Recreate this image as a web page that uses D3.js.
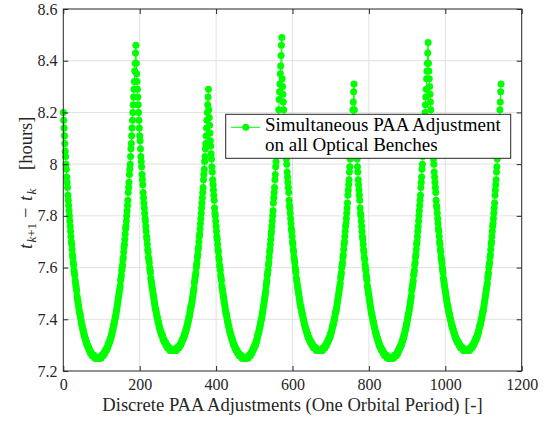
<!DOCTYPE html>
<html>
<head>
<meta charset="utf-8">
<script src="https://cdn.jsdelivr.net/npm/d3@7"></script>
<style>
  html, body { margin: 0; padding: 0; background: #fff; }
  svg { display: block; }
  svg text { font-family: "Liberation Serif", "Times New Roman", serif !important; }
</style>
</head>
<body>
<svg id="chart" width="551" height="426"></svg>
<script>
// Interval between consecutive PAA adjustments [hours], one array per arc
// (adjustment index k runs on continuously from one arc to the next).
const arc1 = [
  8.20,8.17,8.14,8.11,8.08,8.05,8.03,8.00,7.98,7.95,
  7.93,7.91,7.88,7.86,7.84,7.82,7.80,7.78,7.76,7.74,
  7.72,7.70,7.69,7.67,7.65,7.64,7.62,7.61,7.59,7.58,
  7.57,7.55,7.54,7.53,7.52,7.51,7.49,7.48,7.47,7.46,
  7.45,7.44,7.43,7.42,7.42,7.41,7.40,7.39,7.38,7.38,
  7.37,7.36,7.36,7.35,7.34,7.34,7.33,7.33,7.32,7.32,
  7.31,7.31,7.30,7.30,7.30,7.29,7.29,7.29,7.28,7.28,
  7.28,7.27,7.27,7.27,7.27,7.26,7.26,7.26,7.26,7.26,
  7.26,7.26,7.25,7.25,7.25,7.25,7.25,7.25,7.25,7.25,7.25,
  7.25,7.25,7.25,7.25,7.25,7.25,7.25,7.25,7.25,
  7.26,7.26,7.26,7.26,7.26,7.26,
  7.27,7.27,7.27,7.27,7.28,7.28,7.28,7.28,
  7.29,7.29,7.29,7.30,7.30,7.31,7.31,7.31,
  7.32,7.32,7.33,7.33,7.34,7.34,
  7.35,7.36,7.36,7.37,7.38,7.38,7.39,7.40,7.41,7.41,
  7.42,7.43,7.44,7.45,7.46,7.47,7.48,7.49,7.50,7.51,
  7.52,7.53,7.55,7.56,7.57,7.59,7.60,7.61,7.63,7.64,
  7.66,7.68,7.69,7.71,7.73,7.75,7.76,7.78,7.80,7.82,
  7.84,7.86,7.89,7.91,7.93,7.96,7.98,8.00,8.03,8.06,
  8.08,8.11,8.14,8.17,8.20,8.23,8.26,8.29,8.32,8.36,
  8.39,8.43,8.46
];
const arc2 = [
  8.39,8.35,8.32,8.29,8.26,8.23,8.20,8.17,8.14,8.11,
  8.09,8.06,8.03,8.01,7.99,7.96,7.94,7.92,7.89,7.87,
  7.85,7.83,7.81,7.79,7.78,7.76,7.74,7.72,7.71,7.69,
  7.67,7.66,7.64,7.63,7.62,7.60,7.59,7.58,7.56,7.55,
  7.54,7.53,7.52,7.51,7.50,7.49,7.48,7.47,7.46,7.45,
  7.44,7.44,7.43,7.42,7.41,7.41,7.40,7.39,7.39,7.38,
  7.37,7.37,7.36,7.36,7.35,7.35,7.34,7.34,7.34,7.33,7.33,
  7.32,7.32,7.32,7.31,7.31,7.31,7.31,7.30,7.30,7.30,7.30,
  7.29,7.29,7.29,7.29,7.29,7.29,
  7.28,7.28,7.28,7.28,7.28,7.28,7.28,7.28,7.28,7.28,
  7.28,7.28,7.28,7.28,7.28,7.28,7.28,7.28,
  7.29,7.29,7.29,7.29,7.29,7.29,7.29,
  7.30,7.30,7.30,7.30,7.31,7.31,7.31,
  7.32,7.32,7.32,7.33,7.33,7.33,
  7.34,7.34,7.35,7.35,7.36,7.36,7.37,7.37,
  7.38,7.39,7.39,7.40,7.41,7.41,
  7.42,7.43,7.44,7.45,7.45,7.46,7.47,7.48,7.49,7.50,
  7.51,7.52,7.54,7.55,7.56,7.57,7.58,7.60,7.61,7.62,
  7.64,7.65,7.67,7.68,7.70,7.72,7.73,7.75,7.77,7.79,
  7.81,7.83,7.85,7.87,7.89,7.91,7.94,7.96,7.98,8.01,
  8.03,8.06,8.08,8.11,8.14,8.17,8.20,8.23,8.26,8.29
];
const arc3 = [
  8.21,8.18,8.15,8.12,8.09,8.07,8.04,8.02,7.99,7.97,
  7.94,7.92,7.90,7.88,7.86,7.83,7.81,7.80,7.78,7.76,
  7.74,7.72,7.71,7.69,7.67,7.66,7.64,7.63,7.61,7.60,
  7.59,7.57,7.56,7.55,7.53,7.52,7.51,7.50,7.49,7.48,
  7.47,7.46,7.45,7.44,7.43,7.42,7.42,7.41,7.40,7.39,7.39,
  7.38,7.37,7.37,7.36,7.35,7.35,7.34,7.34,7.33,7.33,7.32,7.32,7.31,7.31,
  7.30,7.30,7.30,7.29,7.29,7.29,7.28,7.28,7.28,7.28,7.27,7.27,7.27,7.27,
  7.26,7.26,7.26,7.26,7.26,7.26,7.26,
  7.25,7.25,7.25,7.25,7.25,7.25,7.25,7.25,7.25,7.25,
  7.25,7.25,7.25,7.25,7.25,7.25,7.25,7.25,
  7.26,7.26,7.26,7.26,7.26,7.26,
  7.27,7.27,7.27,7.27,7.28,7.28,7.28,
  7.29,7.29,7.29,7.30,7.30,7.30,
  7.31,7.31,7.32,7.32,7.33,7.34,7.34,7.35,7.35,
  7.36,7.37,7.37,7.38,7.39,7.40,7.40,
  7.41,7.42,7.43,7.44,7.45,7.46,7.47,7.48,7.49,7.50,
  7.51,7.53,7.54,7.55,7.57,7.58,7.59,7.61,7.62,7.64,
  7.66,7.67,7.69,7.71,7.73,7.74,7.76,7.78,7.80,7.82,
  7.85,7.87,7.89,7.91,7.94,7.96,7.99,8.01,8.04,8.07,
  8.10,8.12,8.15,8.18,8.21,8.25,8.28,8.31,8.35,8.38,
  8.42,8.46,8.49
];
const arc4 = [
  8.33,8.30,8.27,8.24,8.21,8.18,8.15,8.12,8.10,8.07,
  8.05,8.02,8.00,7.97,7.95,7.93,7.91,7.89,7.86,7.84,
  7.83,7.81,7.79,7.77,7.75,7.74,7.72,7.70,7.69,7.67,
  7.66,7.64,7.63,7.62,7.60,7.59,7.58,7.56,7.55,7.54,
  7.53,7.52,7.51,7.50,7.49,7.48,7.47,7.46,7.45,7.45,
  7.44,7.43,7.42,7.42,7.41,7.40,7.40,7.39,7.38,7.38,
  7.37,7.37,7.36,7.36,7.35,7.35,7.34,7.34,7.33,7.33,7.33,
  7.32,7.32,7.32,7.31,7.31,7.31,7.31,7.30,7.30,7.30,7.30,
  7.29,7.29,7.29,7.29,7.29,7.29,7.29,
  7.28,7.28,7.28,7.28,7.28,7.28,7.28,7.28,7.28,7.28,
  7.28,7.28,7.28,7.28,7.28,7.28,7.28,7.28,
  7.29,7.29,7.29,7.29,7.29,7.29,
  7.30,7.30,7.30,7.30,7.31,7.31,7.31,
  7.32,7.32,7.32,7.33,7.33,7.33,
  7.34,7.34,7.35,7.35,7.36,7.37,7.37,7.38,7.38,
  7.39,7.40,7.40,7.41,7.42,7.43,7.43,
  7.44,7.45,7.46,7.47,7.48,7.49,7.50,7.51,7.52,7.53,
  7.54,7.56,7.57,7.58,7.60,7.61,7.62,7.64,7.65,7.67,
  7.69,7.70,7.72,7.74,7.76,7.77,7.79,7.81,7.83,7.85,
  7.88,7.90,7.92,7.94,7.97,7.99,8.02,8.04,8.07,8.10,
  8.13,8.15,8.18,8.21,8.24,8.28,8.31
];
const arc5 = [
  8.21,8.18,8.15,8.12,8.09,8.07,8.04,8.02,7.99,7.97,
  7.94,7.92,7.90,7.88,7.86,7.83,7.81,7.80,7.78,7.76,
  7.74,7.72,7.71,7.69,7.67,7.66,7.64,7.63,7.61,7.60,
  7.59,7.57,7.56,7.55,7.53,7.52,7.51,7.50,7.49,7.48,
  7.47,7.46,7.45,7.44,7.43,7.42,7.42,7.41,7.40,7.39,7.39,
  7.38,7.37,7.37,7.36,7.35,7.35,7.34,7.34,7.33,7.33,7.32,7.32,7.31,7.31,
  7.30,7.30,7.30,7.29,7.29,7.29,7.28,7.28,7.28,7.28,7.27,7.27,7.27,7.27,
  7.26,7.26,7.26,7.26,7.26,7.26,7.26,
  7.25,7.25,7.25,7.25,7.25,7.25,7.25,7.25,7.25,7.25,
  7.25,7.25,7.25,7.25,7.25,7.25,7.25,7.25,
  7.26,7.26,7.26,7.26,7.26,7.26,7.26,
  7.27,7.27,7.27,7.27,7.28,7.28,7.28,
  7.29,7.29,7.29,7.30,7.30,7.30,
  7.31,7.31,7.32,7.32,7.33,7.33,7.34,7.34,
  7.35,7.36,7.36,7.37,7.38,7.38,7.39,7.40,7.41,7.42,
  7.42,7.43,7.44,7.45,7.46,7.47,7.48,7.49,7.51,7.52,
  7.53,7.54,7.55,7.57,7.58,7.59,7.61,7.62,7.64,7.65,
  7.67,7.69,7.70,7.72,7.74,7.76,7.78,7.80,7.82,7.84,
  7.86,7.88,7.91,7.93,7.95,7.98,8.00,8.03,8.05,8.08,
  8.11,8.14,8.17,8.20,8.23,8.26,8.29,8.33,8.36,8.39,
  8.43,8.47
];
const arc6 = [
  8.39,8.36,
  8.33,8.30,8.27,8.24,8.21,8.18,8.15,8.12,8.10,8.07,
  8.05,8.02,8.00,7.97,7.95,7.93,7.91,7.89,7.86,7.84,
  7.83,7.81,7.79,7.77,7.75,7.74,7.72,7.70,7.69,7.67,
  7.66,7.64,7.63,7.62,7.60,7.59,7.58,7.56,7.55,7.54,
  7.53,7.52,7.51,7.50,7.49,7.48,7.47,7.46,7.45,7.45,
  7.44,7.43,7.42,7.42,7.41,7.40,7.40,7.39,7.38,7.38,
  7.37,7.37,7.36,7.36,7.35,7.35,7.34,7.34,7.33,7.33,7.33,
  7.32,7.32,7.32,7.31,7.31,7.31,7.31,7.30,7.30,7.30,7.30,
  7.29,7.29,7.29,7.29,7.29,7.29,7.29,
  7.28,7.28,7.28,7.28,7.28,7.28,7.28,7.28,7.28,7.28,
  7.28,7.28,7.28,7.28,7.28,7.28,7.28,7.28,
  7.29,7.29,7.29,7.29,7.29,7.29,
  7.30,7.30,7.30,7.30,7.31,7.31,7.31,
  7.32,7.32,7.32,7.33,7.33,7.33,
  7.34,7.34,7.35,7.35,7.36,7.37,7.37,7.38,7.38,
  7.39,7.40,7.40,7.41,7.42,7.43,7.43,
  7.44,7.45,7.46,7.47,7.48,7.49,7.50,7.51,7.52,7.53,
  7.54,7.56,7.57,7.58,7.60,7.61,7.62,7.64,7.65,7.67,
  7.69,7.70,7.72,7.74,7.76,7.77,7.79,7.81,7.83,7.85,
  7.88,7.90,7.92,7.94,7.97,7.99,8.02,8.04,8.07,8.10,
  8.13,8.15,8.18,8.21,8.24,8.28,8.31
];

const xTicks = [0, 200, 400, 600, 800, 1000, 1200];
const xTickLabels = ["0", "200", "400", "600", "800", "1000", "1200"];
const yTicks = [7.2, 7.4, 7.6, 7.8, 8.0, 8.2, 8.4, 8.6];
const yTickLabels = ["7.2", "7.4", "7.6", "7.8", "8", "8.2", "8.4", "8.6"];
const legendLines = ["Simultaneous PAA Adjustment", "on all Optical Benches"];
const xLabel = "Discrete PAA Adjustments (One Orbital Period) [-]";

// adjustment index k -> interval t_{k+1} - t_k
const intervals = [].concat(arc1, arc2, arc3, arc4, arc5, arc6);
const points = intervals.map((v, k) => ({ k: k, dt: v }));

const svg = d3.select("#chart");
const axisColor = "#262626";
const gridColor = "#e1e1e1";
const green = "#00ff00";
const box = { left: 63.3, right: 521.7, top: 9, bottom: 371 };

const x = d3.scaleLinear().domain([0, 1200]).range([box.left, box.right]);
const y = d3.scaleLinear().domain([7.2, 8.6]).range([box.bottom, box.top]);

svg.append("rect").attr("width", 551).attr("height", 426).attr("fill", "#fff");

// grid
const grid = svg.append("g").attr("stroke", gridColor).attr("stroke-width", 1);
grid.selectAll("line.gx").data(xTicks.slice(1, -1)).join("line")
  .attr("x1", d => x(d)).attr("x2", d => x(d))
  .attr("y1", box.top).attr("y2", box.bottom);
grid.selectAll("line.gy").data(yTicks.slice(1, -1)).join("line")
  .attr("x1", box.left).attr("x2", box.right)
  .attr("y1", d => y(d)).attr("y2", d => y(d));

// data: connecting line plus filled circle markers
svg.append("path")
  .datum(points)
  .attr("fill", "none")
  .attr("stroke", green)
  .attr("stroke-width", 1)
  .attr("d", d3.line().x(d => x(d.k)).y(d => y(d.dt)));

svg.append("g").selectAll("circle").data(points).join("circle")
  .attr("cx", d => x(d.k))
  .attr("cy", d => y(d.dt))
  .attr("r", 3.5)
  .attr("fill", green);

// axes (ticks pointing inwards on all four sides)
function styleAxis(g) {
  g.attr("font-family", null).attr("font-size", null);
  g.select(".domain").remove();
  g.selectAll(".tick line").attr("stroke", axisColor);
  g.selectAll(".tick text")
    .attr("fill", axisColor)
    .style("font-size", "16px");
}

svg.append("g")
  .attr("transform", `translate(0,${box.bottom})`)
  .call(d3.axisBottom(x).tickValues(xTicks).tickFormat((d, i) => xTickLabels[i])
    .tickSizeInner(-5).tickSizeOuter(0).tickPadding(7.6))
  .call(styleAxis);

svg.append("g")
  .attr("transform", `translate(0,${box.top})`)
  .call(d3.axisTop(x).tickValues(xTicks).tickFormat("")
    .tickSizeInner(-5).tickSizeOuter(0))
  .call(styleAxis);

svg.append("g")
  .attr("transform", `translate(${box.left},0)`)
  .call(d3.axisLeft(y).tickValues(yTicks).tickFormat((d, i) => yTickLabels[i])
    .tickSizeInner(-5).tickSizeOuter(0).tickPadding(5.8))
  .call(styleAxis);

svg.append("g")
  .attr("transform", `translate(${box.right},0)`)
  .call(d3.axisRight(y).tickValues(yTicks).tickFormat("")
    .tickSizeInner(-5).tickSizeOuter(0))
  .call(styleAxis);

// axes box
svg.append("rect")
  .attr("x", box.left).attr("y", box.top)
  .attr("width", box.right - box.left).attr("height", box.bottom - box.top)
  .attr("fill", "none").attr("stroke", axisColor).attr("stroke-width", 1);

// x label
svg.append("text")
  .attr("x", (box.left + box.right) / 2).attr("y", 411)
  .attr("text-anchor", "middle")
  .style("font-size", "18.6px")
  .attr("fill", axisColor)
  .text(xLabel);

// y label: t_{k+1} - t_k [hours]
const yl = svg.append("g")
  .attr("transform", "translate(32,249) rotate(-90)")
  .attr("fill", axisColor);
yl.append("text").attr("x", 0).attr("y", 0).attr("font-style", "italic")
  .style("font-size", "18.5px").text("t");
const sub1 = yl.append("text").attr("x", 6.5).attr("y", 4).style("font-size", "13px");
sub1.append("tspan").attr("font-style", "italic").text("k");
sub1.append("tspan").text("+1");
yl.append("text").attr("x", 31).attr("y", 0).style("font-size", "18.5px").text("\u2212");
yl.append("text").attr("x", 48).attr("y", 0).attr("font-style", "italic")
  .style("font-size", "18.5px").text("t");
yl.append("text").attr("x", 54.5).attr("y", 4).attr("font-style", "italic")
  .style("font-size", "13px").text("k");
yl.append("text").attr("x", 79).attr("y", 0).style("font-size", "18.5px").text("[hours]");

// legend
const lg = svg.append("g");
lg.append("rect")
  .attr("x", 225.7).attr("y", 114.3).attr("width", 285).attr("height", 44)
  .attr("fill", "#fff").attr("stroke", axisColor).attr("stroke-width", 1);
lg.append("line")
  .attr("x1", 231).attr("x2", 260).attr("y1", 127.3).attr("y2", 127.3)
  .attr("stroke", green).attr("stroke-width", 1);
lg.append("circle").attr("cx", 245.7).attr("cy", 127.3).attr("r", 3.5).attr("fill", green);
lg.selectAll("text").data(legendLines).join("text")
  .attr("x", 265)
  .attr("y", (d, i) => 130.5 + i * 20)
  .style("font-size", "19px")
  .attr("fill", "#000")
  .text(d => d);
</script>
</body>
</html>
